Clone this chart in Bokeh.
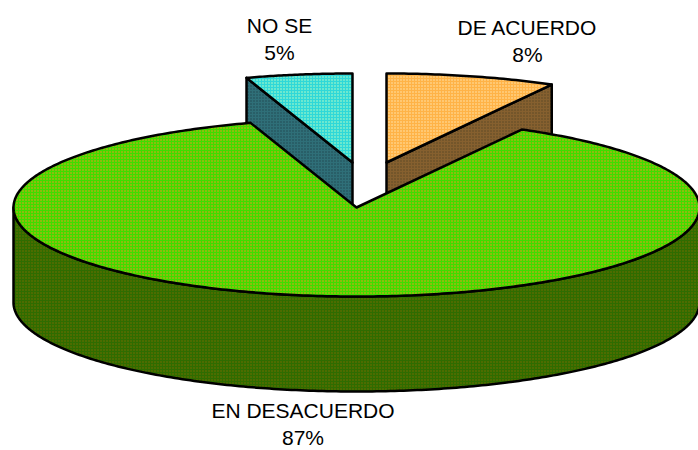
import numpy as np
from bokeh.plotting import figure
from bokeh.models import Range1d
from bokeh.core.properties import value
from bokeh.embed import file_html
from bokeh.resources import INLINE

categories = ["DE ACUERDO", "EN DESACUERDO", "NO SE"]
percents = [8, 87, 5]

RX, RY, DEPTH = 343, 89, 95
CENTRES = {"DE ACUERDO": (386, 162), "EN DESACUERDO": (356, 207), "NO SE": (352, 162)}
LABELS = {"DE ACUERDO": (527, 40), "EN DESACUERDO": (302.5, 423), "NO SE": (279, 38.5)}
STYLE = {
    "DE ACUERDO": ("#ffb347", "#ffe9b0", "#86602f", "#5a4424"),
    "EN DESACUERDO": ("#3fdc00", "#ff9020", "#2f6c00", "#7a6a00"),
    "NO SE": ("#2fd8d8", "#c8ffc0", "#2f6f78", "#1f4550"),
}

def pt(c, deg, dz=0):
    a = np.radians(deg)
    return c[0] + RX * np.sin(a), c[1] - RY * np.cos(a) + dz

p = figure(width=698, height=450, output_backend="svg", toolbar_location=None,
           x_range=Range1d(0, 698), y_range=Range1d(450, 0),
           min_border=0, outline_line_color=None)
p.axis.visible = False
p.grid.visible = False

def draw(xs, ys, fill, hatch, lw=2.5):
    p.patch(xs, ys, fill_color=fill, hatch_pattern="dot", hatch_color=hatch,
            hatch_scale=3, hatch_weight=1.2, hatch_alpha=1.0,
            line_color="black", line_width=lw, line_join="round")

ends = np.cumsum(percents) * 3.6
starts = np.concatenate([[0], ends[:-1]])
spans = dict(zip(categories, zip(starts, ends)))

for cat in ["NO SE", "DE ACUERDO"]:
    c = CENTRES[cat]
    a0, a1 = spans[cat]
    top, thatch, side, shatch = STYLE[cat]
    edge = a1 if cat == "DE ACUERDO" else a0
    ex, ey = pt(c, edge)
    draw([c[0], ex, ex, c[0]], [c[1], ey, ey + DEPTH, c[1] + DEPTH], side, shatch)
    t = np.linspace(a0, a1, 40)
    ax, ay = pt(c, t)
    draw(np.r_[c[0], ax], np.r_[c[1], ay], top, thatch)

cat = "EN DESACUERDO"
c = CENTRES[cat]
a0, a1 = spans[cat]
top, thatch, side, shatch = STYLE[cat]
t = np.linspace(90, 270, 240)
fx, fy = pt(c, t)
bx, by = pt(c, t[::-1], DEPTH)
draw(np.r_[fx, bx], np.r_[fy, by], side, shatch)
t = np.linspace(a0, a1, 400)
ax, ay = pt(c, t)
draw(np.r_[c[0], ax], np.r_[c[1], ay], top, thatch)

for cat, pct in zip(categories, percents):
    x, y = LABELS[cat]
    p.text([x, x], [y - 13.5, y + 13.5], text=[cat, f"{pct}%"], text_align="center",
           text_baseline="middle", text_font=value("Liberation Sans"),
           text_font_size="21px", text_color="black")

open("out.html", "w").write(file_html(p, INLINE))
